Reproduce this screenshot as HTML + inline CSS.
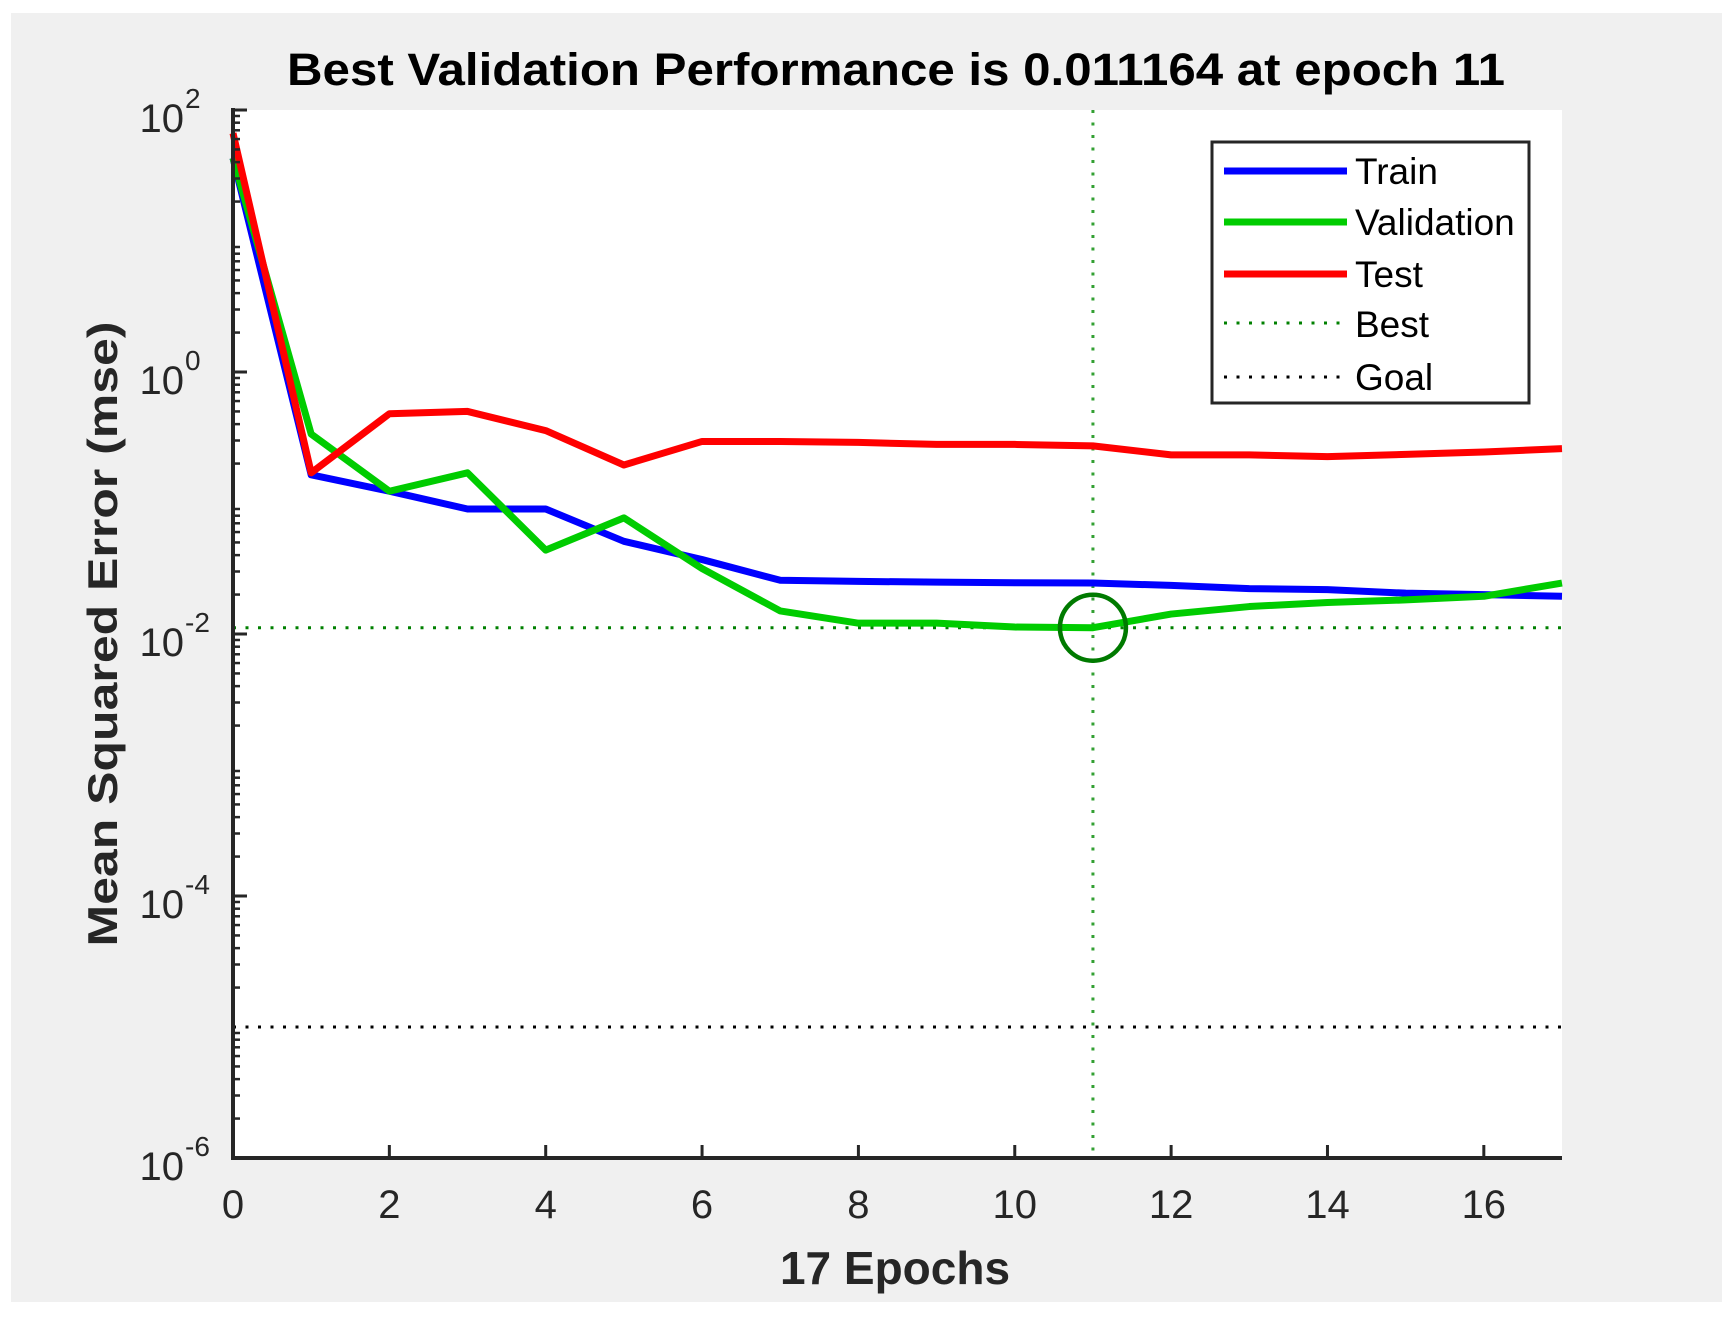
<!DOCTYPE html>
<html><head><meta charset="utf-8"><style>
html,body{margin:0;padding:0;background:#fff;}
svg{display:block;font-family:"Liberation Sans",Arial,sans-serif;}
</style></head><body>
<svg id="chart" width="1736" height="1320" viewBox="0 0 1736 1320">
<rect x="11" y="13" width="1711" height="1289" fill="#f0f0f0"/>
<rect x="233" y="110" width="1329" height="1048" fill="#fff"/>
<g id="grid"></g>
<g id="series"></g>
<g id="axes"></g>
<text x="896" y="85" text-anchor="middle" font-size="45" font-weight="bold" fill="#000" textLength="1218" lengthAdjust="spacingAndGlyphs">Best Validation Performance is 0.011164 at epoch 11</text>
<text x="895" y="1284" text-anchor="middle" font-size="46" font-weight="bold" fill="#262626">17 Epochs</text>
<text transform="translate(117,634) rotate(-90)" text-anchor="middle" font-size="42" font-weight="bold" fill="#262626" textLength="625" lengthAdjust="spacingAndGlyphs">Mean Squared Error  (mse)</text>
<g>
<rect x="1212" y="142" width="317" height="261" fill="#fff" stroke="#262626" stroke-width="3"/>
<line x1="1224" y1="171" x2="1347" y2="171" stroke="#0000ff" stroke-width="7"/>
<text x="1355" y="184" font-size="37" fill="#000">Train</text>
<line x1="1224" y1="222" x2="1347" y2="222" stroke="#00cc00" stroke-width="7"/>
<text x="1355" y="235" font-size="37" fill="#000">Validation</text>
<line x1="1224" y1="274" x2="1347" y2="274" stroke="#ff0000" stroke-width="7"/>
<text x="1355" y="287" font-size="37" fill="#000">Test</text>
<line x1="1224" y1="323" x2="1340" y2="323" stroke="#008000" stroke-width="3" stroke-dasharray="3 9.5"/>
<text x="1355" y="337" font-size="37" fill="#000">Best</text>
<line x1="1224" y1="377" x2="1340" y2="377" stroke="#000" stroke-width="3" stroke-dasharray="3 9.5"/>
<text x="1355" y="390" font-size="37" fill="#000">Goal</text>
</g>
</svg>
<script>
const epochs = [0,1,2,3,4,5,6,7,8,9,10,11,12,13,14,15,16,17];
const trainMse = [43,0.164,0.123,0.09,0.09,0.051,0.037,0.0257,0.0252,0.0249,0.0246,0.0245,0.0235,0.0222,0.0218,0.0205,0.0200,0.0194];
const validationMse = [43,0.336,0.123,0.17,0.0437,0.077,0.0316,0.015,0.0121,0.0121,0.0113,0.011164,0.0142,0.0162,0.0174,0.0182,0.0194,0.0245];
const testMse = [66.5,0.17,0.48,0.5,0.357,0.195,0.295,0.295,0.29,0.28,0.28,0.273,0.233,0.233,0.226,0.235,0.245,0.26];
const bestEpoch = 11;
const bestValue = 0.011164;
const goalValue = 1e-5;
const xTicks = [0,2,4,6,8,10,12,14,16];
const yTickExps = [2,0,-2,-4,-6];

const L=233,R=1562,T=110,B=1158;
const xMin=0,xMax=17,yMinE=-6,yMaxE=2;
function sx(v){return L+(v-xMin)/(xMax-xMin)*(R-L);}
function sy(v){return B-(Math.log10(v)-yMinE)/(yMaxE-yMinE)*(B-T);}
const NS='http://www.w3.org/2000/svg';
function mk(tag,attrs,parent){const e=document.createElementNS(NS,tag);for(const k in attrs)e.setAttribute(k,attrs[k]);parent.appendChild(e);return e;}
const grid=document.getElementById('grid'),series=document.getElementById('series'),axes=document.getElementById('axes');

let g=mk('line',{x1:sx(bestEpoch),y1:T,x2:sx(bestEpoch),y2:B,stroke:'#33a033','stroke-width':3,'stroke-dasharray':'3 9.5'},grid);


g=mk('line',{x1:L,y1:sy(bestValue),x2:R,y2:sy(bestValue),stroke:'#008000','stroke-width':3,'stroke-dasharray':'3 9.5'},grid);


g=mk('line',{x1:L,y1:sy(goalValue),x2:R,y2:sy(goalValue),stroke:'#000','stroke-width':3,'stroke-dasharray':'3 9.5'},grid);



function drawSeries(vals,color,name){
  const pts=vals.map((v,i)=>sx(epochs[i])+','+sy(v)).join(' ');
  const p=mk('polyline',{points:pts,fill:'none',stroke:color,'stroke-width':7,'stroke-linejoin':'round'},series);
  
  
}
drawSeries(trainMse,'#0000ff','train-line');
drawSeries(validationMse,'#00cc00','validation-line');
drawSeries(testMse,'#ff0000','test-line');
const c=mk('circle',{cx:sx(bestEpoch),cy:sy(bestValue),r:33,fill:'none',stroke:'#007a00','stroke-width':4.5},series);



let a=mk('line',{x1:L,y1:T-2,x2:L,y2:B+2,stroke:'#262626','stroke-width':4},axes);


a=mk('line',{x1:L-2,y1:B,x2:R,y2:B,stroke:'#262626','stroke-width':4},axes);


xTicks.forEach(t=>{
  const x=sx(t);
  const tk=mk('line',{x1:x,y1:B,x2:x,y2:B-13,stroke:'#262626','stroke-width':3},axes);
  
  
  const tx=mk('text',{x:x,y:B+60,'text-anchor':'middle','font-size':40,fill:'#262626'},axes);
  tx.textContent=String(t);
  
  
});
for(let e=yMinE;e<yMaxE;e++){
  for(let m=2;m<=9;m++){
    const y=sy(m*Math.pow(10,e));
    const tk=mk('line',{x1:L,y1:y,x2:L+7,y2:y,stroke:'#262626','stroke-width':2.5},axes);
    
    
  }
}
yTickExps.forEach(e=>{
  const y=sy(Math.pow(10,e));
  const tk=mk('line',{x1:L,y1:y,x2:L+14,y2:y,stroke:'#262626','stroke-width':3},axes);
  
  
  const tx=mk('text',{x:184,y:y+22,'text-anchor':'end','font-size':40,fill:'#262626'},axes);
  tx.textContent='10';
  
  
  const sp=mk('text',{x:185,y:y-2,'text-anchor':'start','font-size':28,fill:'#262626'},axes);
  sp.textContent=String(e);
  
  
});
</script>
</body></html>
